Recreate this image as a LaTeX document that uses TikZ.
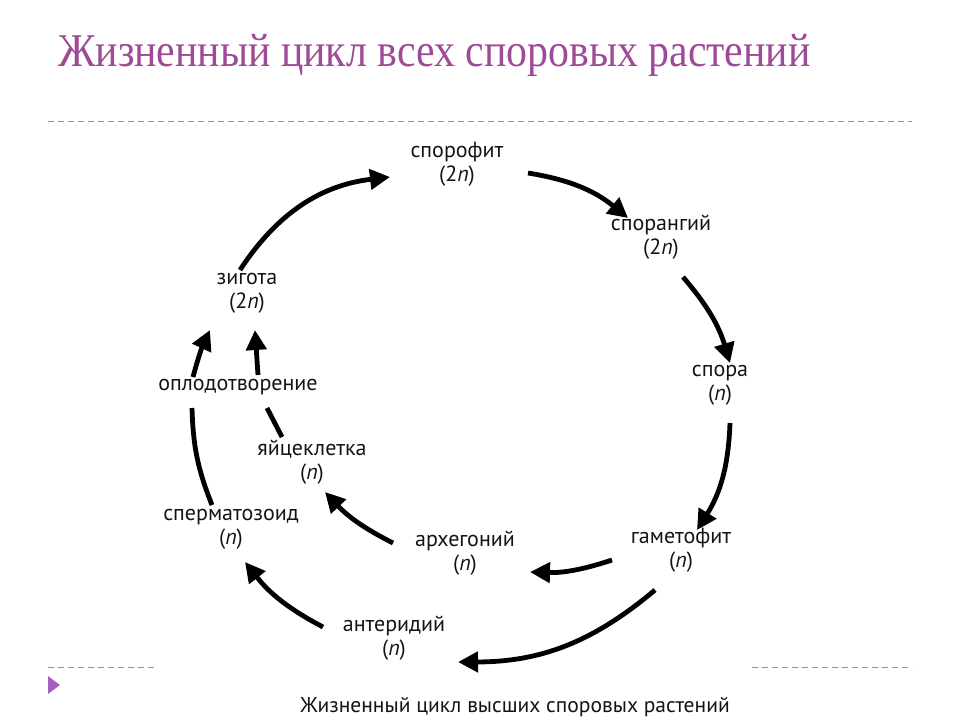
\documentclass[tikz,border=0pt]{standalone}
\usepackage{fontspec}
\setmainfont{Liberation Serif}
\setsansfont{PT Sans}
\usetikzlibrary{positioning, calc, arrows.meta}
\definecolor{titlepurple}{RGB}{158,74,150}
\definecolor{dashgray}{RGB}{150,145,155}
\definecolor{markpurple}{RGB}{165,95,190}

\begin{document}
\begin{tikzpicture}[
        x=1pt, y=-1pt,
        every node/.style={font=\sffamily\fontsize{22}{24}\selectfont, text=black!92},
        stage/.style={align=center, inner sep=0pt},
        cyc/.style={line width=4.8pt, -{Triangle[length=20pt,width=20pt]}},
        link/.style={line width=4.8pt},
        rule/.style={draw=dashgray, line width=0.8pt, dash pattern=on 6pt off 4pt}
    ]
        \useasboundingbox (0,0) rectangle (960,720);

        % Title and slide rules
        \node[anchor=base west, inner sep=0pt, font=\fontsize{47}{50}\selectfont, text=titlepurple] (title) at (58,66) {\scalebox{0.89}[1]{Жизненный цикл всех споровых растений}};
        \draw[rule] (48,121) -- (912,121);
        \draw[rule] (48,667) -- (157,667);
        \draw[rule] (752,667) -- (912,667);
        \fill[markpurple] (48,676) -- (60,685) -- (48,694) -- cycle;

        % Nodes
        \node[stage] (sporophyte) at (457,164) {спорофит\\(2\textit{n})};
        \node[stage] (sporangium) at (661,237) {спорангий\\(2\textit{n})};
        \node[stage] (spore) at (720,385) {спора\\(\textit{n})};
        \node[stage] (gametophyte) at (681,550) {гаметофит\\(\textit{n})};
        \node[stage] (archegonium) at (465,553) {архегоний\\(\textit{n})};
        \node[stage] (antheridium) at (394,638) {антеридий\\(\textit{n})};
        \node[stage] (sperm) at (231,529) {сперматозоид\\(\textit{n})};
        \node[stage] (egg) at (312,462) {яйцеклетка\\(\textit{n})};
        \node[stage] (zygote) at (247,293) {зигота\\(2\textit{n})};
        \node[stage] (fert) at (238,387) {оплодотворение};
        \node[stage, font=\sffamily\fontsize{21.5}{24}\selectfont] (caption) at (515,707) {Жизненный цикл высших споровых растений};

        % Arrows
        \draw[cyc] ($(zygote)+(-7,-23)$) to[bend left=25] ($(sporophyte)+(-67,13)$);
        \draw[cyc] ($(sporophyte)+(71,9)$) to[bend left=15] ($(sporangium)+(-33,-19)$);
        \draw[cyc] ($(sporangium)+(22,40)$) to[bend left=12] ($(spore)+(10,-22)$);
        \draw[cyc] ($(spore)+(10,38)$) to[bend left=15] ($(gametophyte)+(16,-20)$);
        \draw[cyc] ($(gametophyte)+(-69,10)$) to[bend left=10] ($(archegonium)+(65,19)$);
        \draw[cyc] ($(gametophyte)+(-26,40)$) to[bend left=20] ($(antheridium)+(64,24)$);
        \draw[cyc] ($(archegonium)+(-72,-10)$) to[bend left=10] ($(egg)+(13,30)$);
        \draw[cyc] ($(antheridium)+(-71,-11)$) to[bend left=12] ($(sperm)+(14,33)$);

        % Both gametes join at fertilisation
        \draw[link] ($(sperm)+(-19,-24)$) to[bend left=10] ($(fert)+(-46,21)$);
        \draw[cyc] ($(fert)+(-45,-10)$) to[bend left=5] ($(zygote)+(-37,37)$);
        \draw[link] ($(egg)+(-30,-25)$) -- ($(fert)+(29,21)$);
        \draw[cyc] ($(fert)+(20,-12)$) -- ($(zygote)+(8,37)$);
    \end{tikzpicture}
\end{document}
